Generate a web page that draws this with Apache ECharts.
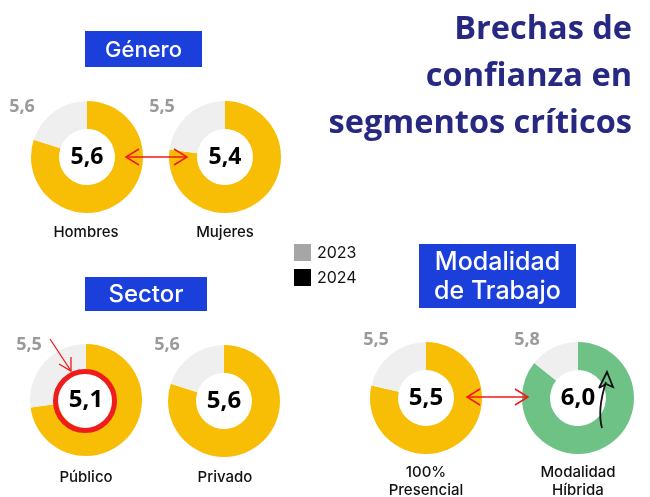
<!DOCTYPE html>
<html><head><meta charset="utf-8">
<script src="https://cdn.jsdelivr.net/npm/echarts@6/dist/echarts.min.js"></script>
<style>html,body{margin:0;padding:0;background:#fff}#c{width:650px;height:497px}</style>
</head><body><div id="c"></div>
<script>
// ---- data ----
const categories = ['Hombres', 'Mujeres', 'Público', 'Privado', '100%\nPresencial', 'Modalidad\nHíbrida'];
const values2024 = [5.6, 5.4, 5.1, 5.6, 5.5, 6.0];
const values2023 = [5.6, 5.5, 5.5, 5.6, 5.5, 5.8];
const scaleMax = 7;
const groupTitles = ['Género', 'Sector', 'Modalidad\nde Trabajo'];
const legendYears = ['2023', '2024'];
const mainTitle = ['Brechas de', 'confianza en', 'segmentos críticos'];

// ---- layout / style ----
const centers = [[87, 157], [225, 157], [86, 400], [224, 401], [426, 398], [578, 398]];
const prevPos = [[22, 107], [162, 107], [29, 345], [167, 345], [376, 340], [527, 340]];
const catPos = [[86, 232], [225, 232], [86, 477], [225, 477], [426, 481], [578, 481]];
const fillColors = ['#F8BD05', '#F8BD05', '#F8BD05', '#F8BD05', '#F8BD05', '#6FC285'];
const restColor = '#EFEFEF';
const boxes = [[85, 31, 117, 36], [85, 277, 122, 34], [419, 244, 157, 64]];
const boxFont = [22, 24, 25];
const legendColors = ['#A6A6A6', '#000000'];
const FONT = '"Open Sans", "Noto Sans", sans-serif';
const LFONT = 'Inter, "Open Sans", sans-serif';

const fmt = v => v.toFixed(1).replace('.', ',');

const series = values2024.map((v, i) => ({
  type: 'pie',
  center: centers[i],
  radius: [28, 56],
  startAngle: 90,
  clockwise: true,
  silent: true,
  animation: false,
  emphasis: { disabled: true },
  labelLine: { show: false },
  data: [
    { name: categories[i], value: v, itemStyle: { color: fillColors[i] },
      label: { show: true, position: 'center', formatter: fmt(v),
        color: '#000', fontSize: i < 2 ? 23 : 24, fontWeight: 'bold', fontFamily: FONT } },
    { name: 'resto', value: +(scaleMax - v).toFixed(2), itemStyle: { color: restColor }, label: { show: false } }
  ]
}));

const g = [];
// main title
mainTitle.forEach((t, i) => g.push({ type: 'text', x: 632, y: 30 + i * 47,
  style: { text: t, align: 'right', verticalAlign: 'middle', fill: '#272882',
    font: 'bold 32.5px "Open Sans", sans-serif' } }));
// group title boxes
boxes.forEach((b, i) => {
  g.push({ type: 'rect', shape: { x: b[0], y: b[1], width: b[2], height: b[3] }, style: { fill: '#1B3FDA' } });
  g.push({ type: 'text', x: b[0] + b[2] / 2, y: b[1] + b[3] / 2 + 1,
    style: { text: groupTitles[i], align: 'center', verticalAlign: 'middle', fill: '#fff',
      font: '500 ' + boxFont[i] + 'px ' + LFONT, lineHeight: 29 } });
});
// previous year values
values2023.forEach((v, i) => g.push({ type: 'text', x: prevPos[i][0], y: prevPos[i][1],
  style: { text: fmt(v), align: 'center', verticalAlign: 'middle', fill: '#9A9A9A',
    font: 'bold 18px ' + FONT } }));
// category labels
categories.forEach((c, i) => g.push({ type: 'text', x: catPos[i][0], y: catPos[i][1],
  style: { text: c, align: 'center', verticalAlign: 'middle', fill: '#111',
    font: '500 15px ' + LFONT, lineHeight: 18 } }));
// legend
legendYears.forEach((y, i) => {
  g.push({ type: 'rect', shape: { x: 294, y: 244 + i * 25, width: 17, height: 17 }, style: { fill: legendColors[i] } });
  g.push({ type: 'text', x: 317, y: 253 + i * 25,
    style: { text: y, align: 'left', verticalAlign: 'middle', fill: '#111', font: '16px ' + LFONT } });
});
// annotations (red arrows, circle, black arrow)
const red = '#F01818';
function dblArrow(x1, x2, y) {
  g.push({ type: 'line', shape: { x1: x1, y1: y, x2: x2, y2: y }, style: { stroke: red, lineWidth: 1.5 }, z: 50 });
  g.push({ type: 'polyline', shape: { points: [[x1 + 13, y - 8], [x1, y], [x1 + 13, y + 8]] }, style: { stroke: red, lineWidth: 1.5, fill: null }, z: 50 });
  g.push({ type: 'polyline', shape: { points: [[x2 - 13, y - 8], [x2, y], [x2 - 13, y + 8]] }, style: { stroke: red, lineWidth: 1.5, fill: null }, z: 50 });
}
dblArrow(126, 187, 157);
dblArrow(467, 528, 397);
g.push({ type: 'circle', shape: { cx: 85, cy: 401, r: 29.5 }, style: { stroke: '#EE1C1C', lineWidth: 5, fill: null }, z: 50 });
g.push({ type: 'line', shape: { x1: 50, y1: 339, x2: 71, y2: 371 }, style: { stroke: red, lineWidth: 1.3 }, z: 50 });
g.push({ type: 'polyline', shape: { points: [[59, 364], [71, 371], [71, 357]] }, style: { stroke: red, lineWidth: 1.3, fill: null }, z: 50 });
g.push({ type: 'bezierCurve', shape: { x1: 602, y1: 428, x2: 606, y2: 382, cpx1: 597, cpy1: 410 }, style: { stroke: '#111', lineWidth: 1.8, fill: null }, z: 50 });
g.push({ type: 'polyline', shape: { points: [[599, 388], [607, 372], [613, 387], [606, 384], [599, 388]] }, style: { stroke: '#111', lineWidth: 1.8, fill: null }, z: 50 });

const chart = echarts.init(document.getElementById('c'), null, { renderer: 'canvas' });
chart.setOption({ backgroundColor: '#fff', animation: false, series: series, graphic: g });
</script></body></html>
